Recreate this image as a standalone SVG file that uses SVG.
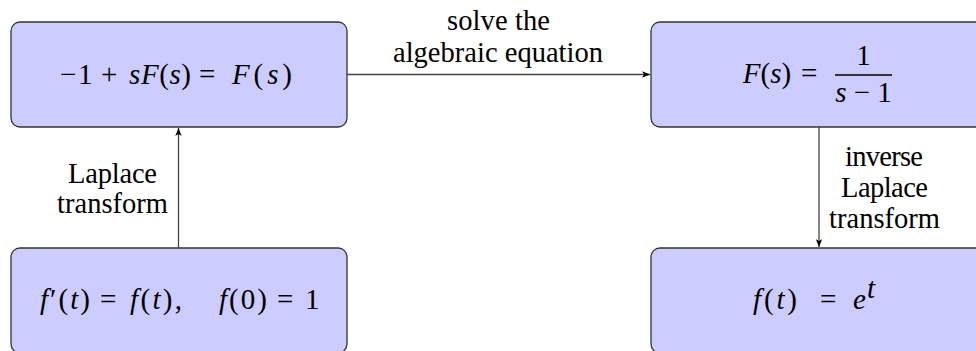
<svg xmlns="http://www.w3.org/2000/svg" width="976" height="351" viewBox="0 0 976 351">
<style>
.box{fill:#ccccff;stroke:#333;stroke-width:1.3}
.m{font-family:"Liberation Serif","Times New Roman",serif;font-size:29px;fill:#000}
.c{text-anchor:middle}
.i{font-style:italic}
.lbl{font-family:"Liberation Serif","Times New Roman",serif;font-size:28.5px;fill:#000;text-anchor:middle}
.edge{stroke:#444;stroke-width:1.3;fill:none}
</style>
<defs>
<marker id="ah" viewBox="0 0 10 8" refX="10" refY="4" markerWidth="8" markerHeight="6.4" markerUnits="userSpaceOnUse" orient="auto">
<path d="M0,0 L10,4 L0,8 L2.5,4 Z" fill="#000"/>
</marker>
</defs>
<g id="n1">
<rect class="box" x="11" y="22" width="336" height="105" rx="9"/>
<text class="m" x="60" y="84">−</text>
<text class="m" x="78" y="84">1</text>
<text class="m" x="101" y="84">+</text>
<text class="m" x="129" y="84" textLength="62" lengthAdjust="spacing"><tspan class="i">sF</tspan>(<tspan class="i">s</tspan>)</text>
<text class="m" x="199" y="84">=</text>
<text class="m" x="232" y="84" textLength="60" lengthAdjust="spacing"><tspan class="i">F</tspan>(<tspan class="i">s</tspan>)</text>
</g>
<g id="n2">
<rect class="box" x="651" y="22" width="336" height="105" rx="9"/>
<text class="m c" x="767" y="83"><tspan class="i">F</tspan>(<tspan class="i">s</tspan>)</text>
<text class="m" x="801" y="83">=</text>
<line x1="835" y1="75" x2="892" y2="75" stroke="#000" stroke-width="1.3"/>
<text class="m c" x="863.5" y="65">1</text>
<text class="m c" x="863.5" y="102" xml:space="preserve"><tspan class="i">s</tspan> − 1</text>
</g>
<g id="n3">
<rect class="box" x="11" y="248" width="336" height="105" rx="9"/>
<text class="m" x="40" y="309" textLength="50" lengthAdjust="spacing"><tspan class="i">f</tspan>′(<tspan class="i">t</tspan>)</text>
<text class="m" x="100" y="309">=</text>
<text class="m" x="130" y="309" textLength="52" lengthAdjust="spacing"><tspan class="i">f</tspan>(<tspan class="i">t</tspan>),</text>
<text class="m" x="219" y="309" textLength="48" lengthAdjust="spacing"><tspan class="i">f</tspan>(0)</text>
<text class="m" x="277" y="309">=</text>
<text class="m" x="305" y="309">1</text>
</g>
<g id="n4">
<rect class="box" x="651" y="248" width="336" height="105" rx="9"/>
<text class="m" x="753" y="309" textLength="44" lengthAdjust="spacing"><tspan class="i">f</tspan>(<tspan class="i">t</tspan>)</text>
<text class="m" x="820" y="309">=</text>
<text class="m i" x="853" y="309">e</text>
<text class="m i" x="867" y="298" font-size="20">t</text>
</g>
<g id="connectors">
<line class="edge" x1="347" y1="74.5" x2="650" y2="74.5" marker-end="url(#ah)"/>
<line class="edge" x1="178.5" y1="248" x2="178.5" y2="128" marker-end="url(#ah)"/>
<line class="edge" x1="819" y1="127" x2="819" y2="247" marker-end="url(#ah)"/>
<text class="lbl" x="498.5" y="30" textLength="103" lengthAdjust="spacing">solve the</text>
<text class="lbl" x="498" y="62" textLength="210" lengthAdjust="spacing">algebraic equation</text>
<text class="lbl" x="112.5" y="183" textLength="89" lengthAdjust="spacing">Laplace</text>
<text class="lbl" x="112.5" y="213" textLength="111" lengthAdjust="spacing">transform</text>
<text class="lbl" x="884" y="166" textLength="78" lengthAdjust="spacing">inverse</text>
<text class="lbl" x="884.5" y="197" textLength="87" lengthAdjust="spacing">Laplace</text>
<text class="lbl" x="884.5" y="228" textLength="111" lengthAdjust="spacing">transform</text>
</g>
</svg>
